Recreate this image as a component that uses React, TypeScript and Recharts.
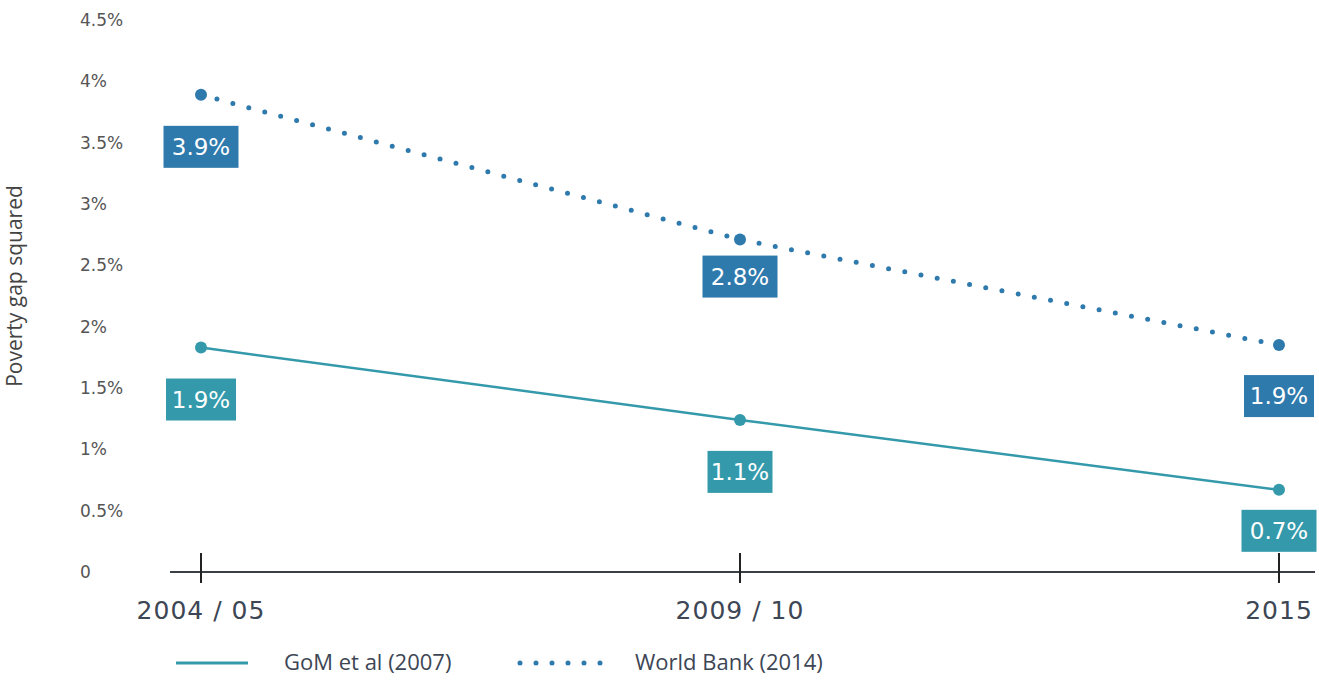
import { LineChart, Line, XAxis, YAxis, Legend, LabelList } from 'recharts'

const periods = ['2004 / 05', '2009 / 10', '2015']
const gomValues = [1.83, 1.24, 0.67]
const wbValues = [3.89, 2.71, 1.85]
const gomLabels = ['1.9%', '1.1%', '0.7%']
const wbLabels = ['3.9%', '2.8%', '1.9%']
const yTicks = [0, 0.5, 1, 1.5, 2, 2.5, 3, 3.5, 4, 4.5]

const GOM_COLOR = '#349aab'
const WB_COLOR = '#2f7aad'
const FONT = '"DejaVu Sans", sans-serif'
const LEGEND_FONT = '"Open Sans", sans-serif'

// gap in px between each point and the top of its label box
const gomGaps = [31, 31, 20]
const wbGaps = [31, 16, 30]

const data = periods.map((period, i) => ({ period, gom: gomValues[i], wb: wbValues[i] }))

const charWidth = (c: string) => {
    if (c === '1') return 10
    if (c === '.') return 6
    if (c === '%') return 22
    return 15
}

const makeBoxLabel = (labels: string[], gaps: number[], color: string) => (props: any) => {
    const { x, y, index } = props
    const text = labels[index]
    const w = text.split('').reduce((s, c) => s + charWidth(c), 0) + 17
    const top = y + gaps[index]
    return (
        <g>
            <rect x={x - w / 2} y={top} width={w} height={42} fill={color} />
            <text x={x} y={top + 29} textAnchor="middle" fill="#fff" fontSize={23} fontFamily={FONT}>
                {text}
            </text>
        </g>
    )
}

const XTick = ({ x, y, payload }: any) => (
    <g>
        <line x1={x} x2={x} y1={y - 19} y2={y + 11} stroke="#222" strokeWidth={2} />
        <text x={x} y={y + 47} textAnchor="middle" fill="#3d4654" fontSize={25} fontFamily={FONT} letterSpacing={1}>
            {payload.value}
        </text>
    </g>
)

const YTick = ({ y, payload }: any) => (
    <text x={80} y={y + 6} textAnchor="start" fill="#555" fontSize={17} fontFamily={FONT}>
        {payload.value === 0 ? '0' : `${payload.value}%`}
    </text>
)

const renderLegend = () => (
    <svg width={1319} height={40}>
        <line x1={176} x2={248} y1={17} y2={17} stroke={GOM_COLOR} strokeWidth={3} />
        <text x={284} y={24} fill="#3d4654" fontSize={22} fontFamily={LEGEND_FONT}>
            GoM et al (2007)
        </text>
        <line
            x1={520}
            x2={601}
            y1={17}
            y2={17}
            stroke={WB_COLOR}
            strokeWidth={5}
            strokeDasharray="0 16"
            strokeLinecap="round"
        />
        <text x={635} y={24} fill="#3d4654" fontSize={22} fontFamily={LEGEND_FONT}>
            World Bank (2014)
        </text>
    </svg>
)

export default function App() {
    return (
        <div style={{ position: 'absolute', left: 0, top: 0 }}>
            <LineChart width={1319} height={686} data={data} margin={{ top: 20, right: 4, bottom: 0, left: 8 }}>
                <XAxis
                    dataKey="period"
                    padding={{ left: 31, right: 36 }}
                    axisLine={{ stroke: '#3b3f46', strokeWidth: 2 }}
                    tickLine={false}
                    tickSize={0}
                    tickMargin={0}
                    height={74}
                    tick={<XTick />}
                    interval={0}
                />
                <YAxis
                    width={162}
                    domain={[0, 4.5]}
                    ticks={yTicks}
                    axisLine={false}
                    tickLine={false}
                    tick={<YTick />}
                    label={{
                        value: 'Poverty gap squared',
                        angle: -90,
                        position: 'insideLeft',
                        dx: 2,
                        dy: -10,
                        style: { fontSize: 21, fill: '#444', fontFamily: LEGEND_FONT, textAnchor: 'middle' },
                    }}
                />
                <Legend verticalAlign="bottom" height={40} content={renderLegend} wrapperStyle={{ left: 0, width: 1319 }} />
                <Line
                    dataKey="gom"
                    stroke={GOM_COLOR}
                    strokeWidth={2.5}
                    dot={{ r: 6, fill: GOM_COLOR, stroke: 'none' }}
                    activeDot={false}
                    isAnimationActive={false}
                >
                    <LabelList dataKey="gom" content={makeBoxLabel(gomLabels, gomGaps, GOM_COLOR)} />
                </Line>
                <Line
                    dataKey="wb"
                    stroke={WB_COLOR}
                    strokeWidth={5}
                    strokeDasharray="0 16.5"
                    strokeLinecap="round"
                    dot={{ r: 6, fill: WB_COLOR, stroke: 'none', strokeDasharray: '0' }}
                    activeDot={false}
                    isAnimationActive={false}
                >
                    <LabelList dataKey="wb" content={makeBoxLabel(wbLabels, wbGaps, WB_COLOR)} />
                </Line>
            </LineChart>
        </div>
    )
}
